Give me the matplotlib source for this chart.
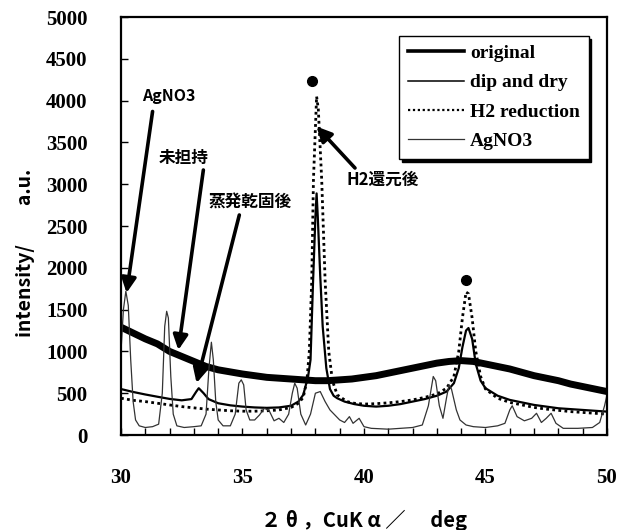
import numpy as np
import matplotlib
matplotlib.use("Agg")
import matplotlib.pyplot as plt
from matplotlib.ticker import MultipleLocator

# --- data ---
orig_x = [30, 30.5, 31, 31.5, 32, 32.5, 33, 33.5, 34, 34.5, 35, 35.5, 36, 36.5, 37, 37.5,
          38, 38.5, 39, 39.5, 40, 40.5, 41, 41.5, 42, 42.5, 43, 43.5, 44, 44.5, 45, 45.5,
          46, 46.5, 47, 47.5, 48, 48.5, 49, 49.5, 50]
orig_y = [1290, 1220, 1150, 1090, 1000, 940, 880, 820, 780, 755, 730, 710, 690, 680, 670, 660,
          650, 650, 660, 670, 690, 710, 740, 770, 800, 830, 860, 880, 890, 880, 850, 820,
          790, 750, 710, 680, 650, 610, 580, 550, 520]

dip_x = [30, 30.5, 31, 31.5, 32, 32.5, 32.9, 33.1, 33.2, 33.4, 33.6, 34, 34.5, 35, 35.5, 36,
         36.5, 37, 37.3, 37.5, 37.7, 37.8, 37.9, 38.0, 38.05, 38.1, 38.2, 38.3, 38.45, 38.6,
         38.75, 38.9, 39.2, 39.6, 40, 40.5, 41, 41.5, 42, 42.5, 43, 43.4, 43.7, 43.9, 44.05,
         44.2, 44.3, 44.45, 44.6, 44.8, 45.0, 45.5, 46, 46.5, 47, 47.5, 48, 48.5, 49, 49.5, 50]
dip_y = [550, 515, 485, 458, 432, 415, 430, 520, 560, 500, 430, 380, 355, 340, 330, 325,
         330, 350, 400, 480, 700, 900, 1800, 2600, 2890, 2600, 1900, 1300, 800, 550,
         470, 440, 400, 370, 350, 340, 350, 370, 400, 430, 470, 520, 620, 800, 1050,
         1250, 1280, 1150, 850, 650, 560, 470, 420, 390, 360, 340, 320, 310, 300, 290, 280]

h2_x = [30, 30.5, 31, 31.5, 32, 32.5, 33, 33.5, 34, 34.5, 35, 35.5, 36, 36.5, 37, 37.3,
        37.5, 37.65, 37.75, 37.85, 37.92, 38.05, 38.12, 38.26, 38.4, 38.55, 38.7, 38.9,
        39.3, 39.6, 40, 40.5, 41, 41.5, 42, 42.5, 43, 43.4, 43.7, 43.9, 44.05, 44.2, 44.3,
        44.45, 44.6, 44.8, 45.0, 45.5, 46, 46.5, 47, 47.5, 48, 48.5, 49, 49.5, 50]
h2_y = [440, 415, 400, 380, 360, 340, 325, 310, 300, 290, 285, 285, 290, 300, 330, 380,
        450, 650, 1000, 1850, 3050, 4050, 3900, 3050, 1850, 1000, 650, 480,
        400, 380, 370, 375, 385, 400, 420, 450, 490, 560, 700, 1000, 1400, 1710, 1690,
        1400, 1000, 700, 550, 440, 390, 360, 330, 310, 295, 280, 270, 260, 250]

ag_x = [30.0, 30.1, 30.2, 30.3, 30.4, 30.5, 30.6, 30.75, 31.0, 31.3, 31.55, 31.7, 31.8, 31.88,
        31.95, 32.05, 32.15, 32.3, 32.6, 33.0, 33.3, 33.5, 33.62, 33.72, 33.8, 33.9, 34.0,
        34.2, 34.5, 34.7, 34.85, 34.95, 35.05, 35.15, 35.3, 35.5, 35.7, 35.9, 36.1, 36.3,
        36.5, 36.7, 36.9, 37.05, 37.15, 37.25, 37.4, 37.6, 37.8, 38.0, 38.2, 38.4, 38.6,
        38.8, 39.0, 39.2, 39.4, 39.55, 39.8, 40.0, 40.3, 41.0, 41.5, 42.0, 42.4, 42.65,
        42.85, 42.95, 43.1, 43.25, 43.4, 43.5, 43.6, 43.8, 43.95, 44.2, 44.5, 45.0, 45.5,
        45.8, 46.0, 46.1, 46.3, 46.6, 46.9, 47.1, 47.3, 47.5, 47.7, 47.9, 48.2, 48.8, 49.4,
        49.7, 49.9, 50.0]
ag_y = [1000, 1500, 1720, 1550, 900, 400, 180, 110, 90, 100, 130, 500, 1300, 1480,
        1400, 700, 250, 110, 90, 100, 110, 250, 800, 1110, 900, 400, 180,
        110, 110, 250, 620, 660, 600, 300, 180, 180, 240, 320, 290, 170,
        200, 150, 250, 500, 620, 560, 250, 120, 250, 500, 520, 400, 300,
        240, 180, 150, 220, 140, 200, 100, 80, 70, 80, 90, 120, 350,
        700, 650, 350, 200, 450, 600, 550, 300, 180, 120, 100, 90, 110,
        140, 300, 350, 220, 170, 200, 260, 150, 200, 260, 140, 80, 80, 90,
        150, 350, 480]

peak_x = [37.86, 44.18]
peak_y = [4230, 1860]

serif = "Liberation Serif"
jp = ["Noto Sans CJK JP", "DejaVu Sans"]

fig = plt.figure(figsize=(6.23, 5.30), dpi=100)
ax = fig.add_axes([0.1942, 0.1792, 0.7801, 0.7887])

ax.plot(orig_x, orig_y, color="black", lw=5, solid_joinstyle="round", label="original")
ax.plot(dip_x, dip_y, color="black", lw=1.6, label="dip and dry")
ax.plot(h2_x, h2_y, color="black", lw=2.0, linestyle=(0, (1, 1.2)), label="H2 reduction")
ax.plot(ag_x, ag_y, color="#333333", lw=0.9, label="AgNO3")
ax.plot(peak_x, peak_y, "o", color="black", ms=7)

ax.set_xlim(30, 50)
ax.set_ylim(0, 5000)
ax.xaxis.set_major_locator(MultipleLocator(5))
ax.xaxis.set_minor_locator(MultipleLocator(1))
ax.yaxis.set_major_locator(MultipleLocator(500))
ax.tick_params(axis="both", which="both", direction="in", length=5, width=1)
ax.tick_params(axis="y", which="minor", left=False)
ax.xaxis.set_tick_params(which="major", pad=24)
ax.yaxis.set_tick_params(which="major", pad=24)
for sp in ax.spines.values():
    sp.set_linewidth(1.6)

for lab in ax.get_xticklabels() + ax.get_yticklabels():
    lab.set_fontfamily(serif)
    lab.set_fontweight("bold")
    lab.set_fontsize(15)

ax.set_xlabel("２ θ ，CuK α ／　 deg", family=jp, fontweight="bold", fontsize=14.5)
ax.set_ylabel("intensity/　　a.u.", family=jp, fontweight="bold", fontsize=14)
ax.xaxis.set_label_coords(0.5, -0.178)
ax.yaxis.set_label_coords(-0.177, 0.435)

# annotations with arrows
arrow = dict(arrowstyle="-|>", lw=2.6, color="black", mutation_scale=22, shrinkA=0, shrinkB=0)
ax.annotate("", xy=(30.23, 1700), xytext=(31.3, 3870), arrowprops=arrow)
ax.text(31.95, 4050, "AgNO3", family=jp, fontweight="bold", fontsize=11.5, ha="center", va="center")
ax.annotate("", xy=(32.36, 1017), xytext=(33.39, 3170), arrowprops=arrow)
ax.text(32.57, 3313, "未担持", family=jp, fontweight="bold", fontsize=12, ha="center", va="center")
ax.annotate("", xy=(33.11, 622), xytext=(34.87, 2632), arrowprops=arrow)
ax.text(35.33, 2775, "蒸発乾固後", family=jp, fontweight="bold", fontsize=12, ha="center", va="center")
ax.annotate("", xy=(38.05, 3690), xytext=(39.63, 3194), arrowprops=arrow)
ax.text(40.78, 3050, "H2還元後", family=jp, fontweight="bold", fontsize=12, ha="center", va="center")

leg = ax.legend(loc="upper right", bbox_to_anchor=(0.962, 0.955), frameon=True, fancybox=False,
                shadow={"color": "black", "alpha": 1.0}, framealpha=1, edgecolor="black",
                prop={"family": serif, "weight": "bold", "size": 14}, handlelength=2.9,
                handletextpad=0.3, labelspacing=0.6, borderpad=0.45, borderaxespad=0)
leg.get_frame().set_linewidth(1.0)
# legend keys are drawn thinner than the noisy traces
for ln, w in zip(leg.get_lines(), [2.6, 1.1, 1.6, 0.9]):
    ln.set_linewidth(w)

fig.savefig("out.png", dpi=100)
